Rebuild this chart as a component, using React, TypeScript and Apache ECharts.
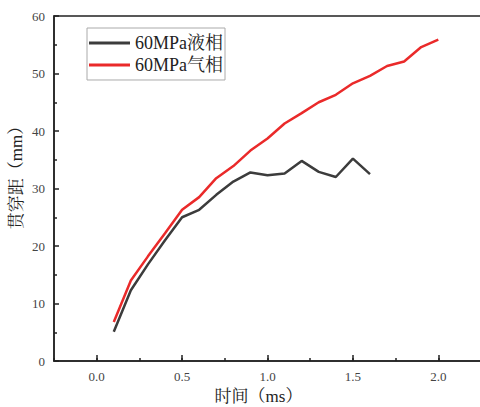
import React, { useEffect, useRef } from "react";
import * as echarts from "echarts";

const timeLiquid = [0.1, 0.2, 0.3, 0.4, 0.5, 0.6, 0.7, 0.8, 0.9, 1.0, 1.1, 1.2, 1.3, 1.4, 1.5, 1.6];
const liquid = [5.1, 12.3, 16.8, 21.0, 25.0, 26.3, 28.9, 31.2, 32.8, 32.3, 32.6, 34.8, 32.9, 32.0, 35.2, 32.5];
const timeGas = [0.1, 0.2, 0.3, 0.4, 0.5, 0.6, 0.7, 0.8, 0.9, 1.0, 1.1, 1.2, 1.3, 1.4, 1.5, 1.6, 1.7, 1.8, 1.9, 2.0];
const gas = [6.8, 14.0, 18.2, 22.2, 26.3, 28.5, 31.8, 33.9, 36.6, 38.7, 41.3, 43.1, 45.0, 46.3, 48.3, 49.6, 51.3, 52.1, 54.6, 55.9];
const seriesNames = ["60MPa液相", "60MPa气相"];
const xName = "时间（ms）";
const yName = "贯穿距（mm）";

const FONT = "'Liberation Serif', 'Noto Serif CJK SC', 'Noto Sans CJK SC', serif";

export default function App() {
  const ref = useRef<HTMLDivElement>(null);
  useEffect(() => {
    if (!ref.current) return;
    const chart = echarts.init(ref.current, null, { renderer: "svg" });
    chart.setOption({
      animation: false,
      backgroundColor: "#ffffff",
      textStyle: { fontFamily: FONT },
      grid: {
        left: 54,
        top: 16,
        width: 427,
        height: 345,
        outerBoundsMode: "none",
        containLabel: false,
        show: true,
        borderColor: "#222",
        borderWidth: 1.5,
        backgroundColor: "transparent",
      },
      legend: {
        orient: "vertical",
        left: 87,
        top: 28,
        padding: [6, 2, 6, 2],
        itemGap: 4,
        itemWidth: 41,
        itemHeight: 3,
        icon: "rect",
        borderColor: "#aaa",
        borderWidth: 1,
        borderRadius: 0,
        textStyle: { fontFamily: FONT, fontSize: 18, color: "#222", lineHeight: 16 },
        data: seriesNames,
      },
      xAxis: [
        {
          type: "value",
          min: -0.25,
          max: 2.25,
          splitNumber: 5,
          name: xName,
          nameLocation: "middle",
          nameGap: 27,
          nameMoveOverlap: false,
          nameTextStyle: { fontFamily: FONT, fontSize: 17, color: "#222", padding: [0, 18, 0, 0] },
          axisLine: { show: true, onZero: false, lineStyle: { color: "#222", width: 1.5 } },
          axisTick: { show: true, inside: true, length: 6, lineStyle: { color: "#222", width: 1.5 } },
          axisLabel: {
            showMinLabel: false,
            showMaxLabel: false,
            margin: 9,
            fontSize: 13,
            color: "#444",
            fontFamily: FONT,
            formatter: (v: number) => v.toFixed(1),
          },
          splitLine: { show: false },
        },
        {
          type: "value",
          min: -0.25,
          max: 2.25,
          interval: 0.25,
          position: "bottom",
          axisLine: { show: false, onZero: false },
          axisTick: { show: true, inside: true, length: 3, lineStyle: { color: "#222", width: 1.5 } },
          axisLabel: { show: false },
          splitLine: { show: false },
        },
      ],
      yAxis: {
        type: "value",
        min: 0,
        max: 60,
        interval: 10,
        name: yName,
        nameLocation: "middle",
        nameGap: 29,
        nameMoveOverlap: false,
        nameTextStyle: { fontFamily: FONT, fontSize: 17, color: "#222", padding: [0, 0, 0, 30] },
        axisLine: { show: true, onZero: false, lineStyle: { color: "#222", width: 1.5 } },
        axisTick: { show: true, inside: true, length: 5, lineStyle: { color: "#222", width: 1.5 } },
        minorTick: { show: true, splitNumber: 2, length: 3, lineStyle: { color: "#222", width: 1.5 } },
        axisLabel: { margin: 9, fontSize: 13, color: "#444", fontFamily: FONT },
        splitLine: { show: false },
      },
      series: [
        {
          name: seriesNames[0],
          type: "line",
          symbol: "none",
          data: timeLiquid.map((t, i) => [t, liquid[i]]),
          lineStyle: { color: "#3c3c3c", width: 2.5 },
          itemStyle: { color: "#3c3c3c" },
        },
        {
          name: seriesNames[1],
          type: "line",
          symbol: "none",
          data: timeGas.map((t, i) => [t, gas[i]]),
          lineStyle: { color: "#ea2a2a", width: 2.5 },
          itemStyle: { color: "#ea2a2a" },
        },
      ],
    });
    return () => chart.dispose();
  }, []);
  return <div ref={ref} style={{ width: 480, height: 407, position: "fixed", left: 0, top: 0 }} />;
}
